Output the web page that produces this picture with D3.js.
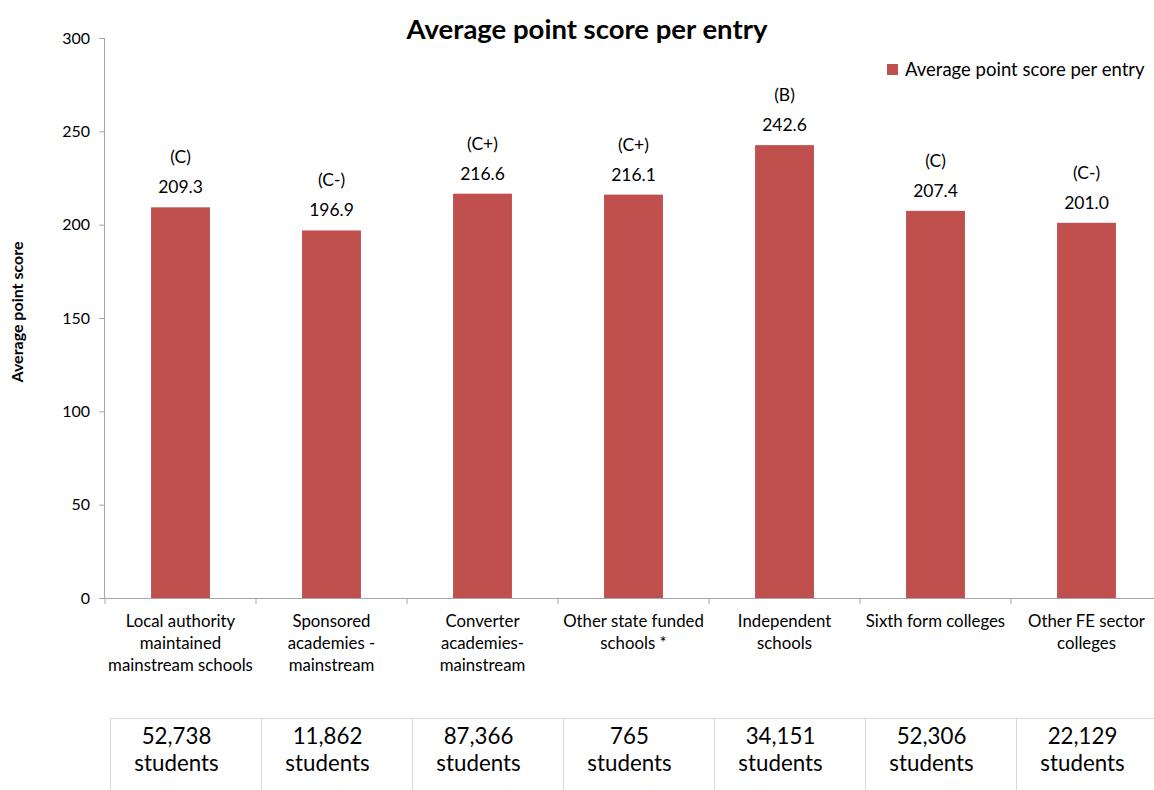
<!DOCTYPE html>
<html>
<head>
<meta charset="utf-8">
<script src="https://cdn.jsdelivr.net/npm/d3@7"></script>
<style>
  html, body { margin: 0; padding: 0; background: #fff; }
  svg { display: block; font-family: Lato, "Open Sans", sans-serif; }
</style>
</head>
<body>
<svg id="chart" width="1154" height="790"></svg>
<script>
const categories = [
  ["Local authority", "maintained", "mainstream schools"],
  ["Sponsored", "academies -", "mainstream"],
  ["Converter", "academies-", "mainstream"],
  ["Other state funded", "schools *"],
  ["Independent", "schools"],
  ["Sixth form colleges"],
  ["Other FE sector", "colleges"]
];
const scores = [209.3, 196.9, 216.6, 216.1, 242.6, 207.4, 201.0];
const grades = ["(C)", "(C-)", "(C+)", "(C+)", "(B)", "(C)", "(C-)"];
const students = [52738, 11862, 87366, 765, 34151, 52306, 22129];
const yTicks = [0, 50, 100, 150, 200, 250, 300];
const seriesName = "Average point score per entry";

(function () {
const svg = d3.select("#chart");
const pLeft = 105, pRight = 1162, pTop = 38, pBottom = 598;
const barColor = "#C0504D";
const axisColor = "#A6A6A6";

const x = d3.scaleBand().domain(d3.range(scores.length)).range([pLeft, pRight]).paddingInner(0.61).paddingOuter(0.305);
const xStep = x.step();
const y = d3.scaleLinear().domain([0, 300]).range([pBottom, pTop]);

// Title
svg.append("text").attr("x", 587).attr("y", 39).attr("text-anchor", "middle")
  .attr("font-size", 27.5).attr("font-weight", "bold").attr("fill", "#000").text(seriesName);

// Y axis
const yAxis = svg.append("g").attr("transform", `translate(${pLeft},0)`)
  .call(d3.axisLeft(y).tickValues(yTicks).tickSize(6).tickPadding(9).tickFormat(d3.format("d")));
yAxis.select(".domain").attr("stroke", axisColor).attr("d", `M-0.5,${pTop}V${pBottom}`);
yAxis.selectAll(".tick line").attr("stroke", axisColor);
yAxis.selectAll(".tick text").attr("font-size", 16).attr("fill", "#000").attr("font-family", "Lato, sans-serif");

// Y axis title
svg.append("text").attr("transform", `translate(23,${312}) rotate(-90)`)
  .attr("text-anchor", "middle").attr("font-size", 16).attr("font-weight", "bold").text("Average point score");

// X axis line and ticks
const xg = svg.append("g");
xg.append("line").attr("x1", pLeft - 6).attr("x2", pRight).attr("y1", pBottom + 0.5).attr("y2", pBottom + 0.5).attr("stroke", axisColor);
d3.range(scores.length + 1).forEach(i => {
  const xx = pLeft + i * xStep;
  xg.append("line").attr("x1", xx).attr("x2", xx).attr("y1", pBottom).attr("y2", pBottom + 6).attr("stroke", axisColor);
});

// Bars
svg.append("g").selectAll("rect").data(scores).join("rect")
  .attr("x", (d, i) => x(i)).attr("width", x.bandwidth())
  .attr("y", d => y(d)).attr("height", d => pBottom - y(d))
  .attr("fill", barColor);

// Value labels
svg.append("g").selectAll("text").data(scores).join("text")
  .attr("x", (d, i) => x(i) + x.bandwidth() / 2).attr("y", d => y(d) - 14)
  .attr("text-anchor", "middle").attr("font-size", 17.5).text(d => d.toFixed(1));

// Grade labels
svg.append("g").selectAll("text").data(grades).join("text")
  .attr("x", (d, i) => x(i) + x.bandwidth() / 2).attr("y", (d, i) => y(scores[i]) - 44)
  .attr("text-anchor", "middle").attr("font-size", 17.5).text(d => d);

// Category labels
const cl = svg.append("g");
categories.forEach((lines, i) => {
  const t = cl.append("text").attr("text-anchor", "middle").attr("font-size", 16.8);
  lines.forEach((ln, j) => {
    t.append("tspan").attr("x", x(i) + x.bandwidth() / 2).attr("y", 627 + j * 22).text(ln);
  });
});

// Legend
svg.append("rect").attr("x", 887).attr("y", 64).attr("width", 11).attr("height", 11).attr("fill", barColor);
svg.append("text").attr("x", 905).attr("y", 76).attr("font-size", 18.5).text(seriesName);

// Students table
const tableTop = 718.5, tableColor = "#D9D9D9";
const tg = svg.append("g");
tg.append("line").attr("x1", pLeft + 5).attr("x2", 1154).attr("y1", tableTop).attr("y2", tableTop).attr("stroke", tableColor);
d3.range(scores.length).forEach(i => {
  const xx = Math.round(pLeft + 5 + i * xStep) + 0.5;
  tg.append("line").attr("x1", xx).attr("x2", xx).attr("y1", tableTop).attr("y2", 790).attr("stroke", tableColor);
});
const fmt = d3.format(",");
students.forEach((s, i) => {
  const cx = x(i) + x.bandwidth() / 2 - 4;
  const t = tg.append("text").attr("text-anchor", "middle").attr("font-size", 22.3);
  t.append("tspan").attr("x", cx).attr("y", 744).text(fmt(s));
  t.append("tspan").attr("x", cx).attr("y", 771).text("students");
});
})();
</script>
</body>
</html>
